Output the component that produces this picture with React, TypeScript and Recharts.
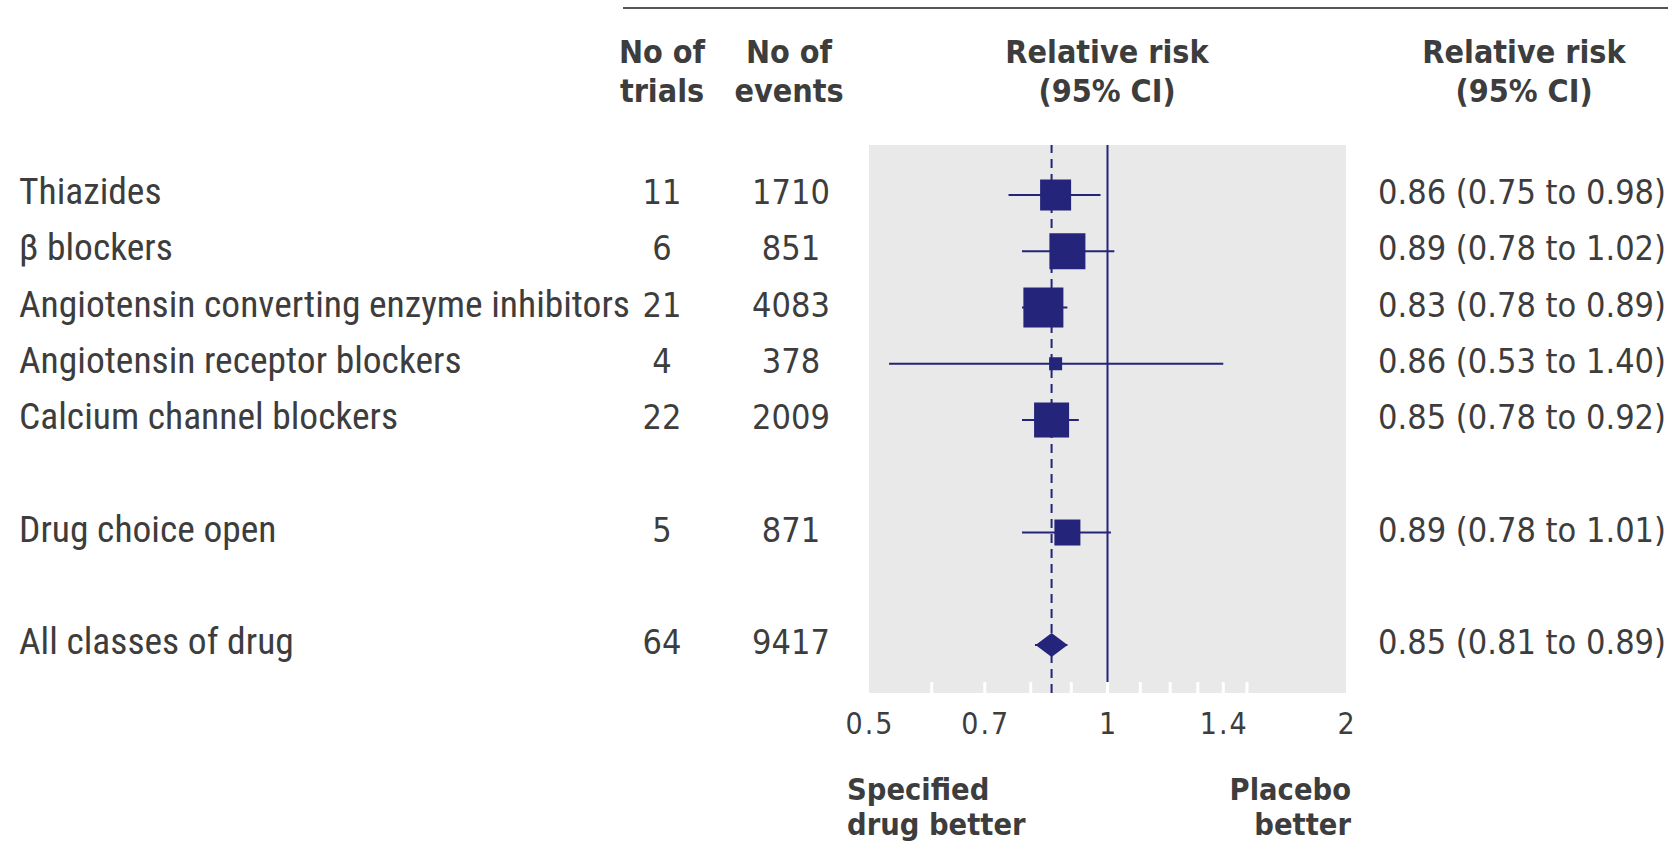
import React from "react";
import { ScatterChart, Scatter, XAxis, YAxis, CartesianGrid, ReferenceLine, ErrorBar } from "recharts";

const labels = [
  "Thiazides",
  "β blockers",
  "Angiotensin converting enzyme inhibitors",
  "Angiotensin receptor blockers",
  "Calcium channel blockers",
  "Drug choice open",
  "All classes of drug",
];
const slots = [0, 1, 2, 3, 4, 6, 8];
const trials = [11, 6, 21, 4, 22, 5, 64];
const events = [1710, 851, 4083, 378, 2009, 871, 9417];
const rr = [0.86, 0.89, 0.83, 0.86, 0.85, 0.89, 0.85];
const lo = [0.75, 0.78, 0.78, 0.53, 0.78, 0.78, 0.81];
const hi = [0.98, 1.02, 0.89, 1.4, 0.92, 1.01, 0.89];
const xTicks = [0.5, 0.6, 0.7, 0.8, 0.9, 1, 1.1, 1.2, 1.3, 1.4, 1.5, 2];
const xLabels = [0.5, 0.7, 1, 1.4, 2];

// marker side in px (study weight), last row is the pooled diamond
const BOX_PX = [31, 36, 40, 13, 35, 26, 0];

const NAVY = "#24247a";
const TEXT = "#3d3d3d";
const LABEL_FONT = '"Roboto Condensed", "DejaVu Sans Condensed", sans-serif';
const NUM_FONT = '"DejaVu Sans Condensed", "DejaVu Sans", sans-serif';
const BOLD_FONT = '"DejaVu Sans Condensed", "DejaVu Sans", sans-serif';

const rows = labels.map((label, i) => ({
  label,
  slot: slots[i],
  rr: rr[i],
  err: [+(rr[i] - lo[i]).toFixed(3), +(hi[i] - rr[i]).toFixed(3)],
  box: BOX_PX[i],
  pooled: i === labels.length - 1,
}));
const pooled = rr[rr.length - 1];

function Marker(props: any) {
  const { cx, cy, payload } = props;
  if (payload.pooled) {
    return (
      <polygon
        points={`${cx - 16},${cy} ${cx},${cy - 12} ${cx + 16},${cy} ${cx},${cy + 12}`}
        fill={NAVY}
      />
    );
  }
  const s = payload.box;
  return <rect x={cx - s / 2} y={cy - s / 2} width={s} height={s} fill={NAVY} />;
}

function RowTick(props: any) {
  const { y, payload } = props;
  const i = slots.indexOf(payload.value);
  if (i < 0) return null;
  const base = y + 9;
  const lab = { fontFamily: LABEL_FONT, fontSize: 37.5, fill: TEXT };
  const num = { fontFamily: NUM_FONT, fontSize: 34, fill: TEXT };
  return (
    <g>
      <text x={19} y={base} style={lab}>{labels[i]}</text>
      <text x={662} y={base} textAnchor="middle" style={num}>{trials[i]}</text>
      <text x={791} y={base} textAnchor="middle" style={num}>{events[i]}</text>
      <text x={1666} y={base} textAnchor="end" style={num}>
        {`${rr[i].toFixed(2)} (${lo[i].toFixed(2)} to ${hi[i].toFixed(2)})`}
      </text>
    </g>
  );
}

function XTick(props: any) {
  const { x, y, payload } = props;
  const v = payload.value;
  const edge = v === 0.5 || v === 2;
  return (
    <g>
      {!edge && <line x1={x} x2={x} y1={y - 11} y2={y} stroke="#fff" strokeWidth={3} />}
      {xLabels.includes(v) && (
        <text
          x={x + 1}
          y={y + 41}
          textAnchor="middle"
          style={{ fontFamily: NUM_FONT, fontSize: 30, fill: TEXT, letterSpacing: 2 }}
        >
          {String(v)}
        </text>
      )}
    </g>
  );
}

const bold = { fontFamily: BOLD_FONT, fontWeight: 700, fontSize: 32, fill: TEXT };
const boldFoot = { ...bold, fontSize: 30.5 };

function Captions() {
  return (
    <svg width={1677} height={843} style={{ position: "absolute", left: 0, top: 0, pointerEvents: "none" }}>
      <line x1={623} x2={1668} y1={8} y2={8} stroke="#555" strokeWidth={2} />
      <text x={662} y={63} textAnchor="middle" style={bold}>No of</text>
      <text x={662} y={102} textAnchor="middle" style={bold}>trials</text>
      <text x={789} y={63} textAnchor="middle" style={bold}>No of</text>
      <text x={789} y={102} textAnchor="middle" style={bold}>events</text>
      <text x={1107} y={63} textAnchor="middle" style={bold}>Relative risk</text>
      <text x={1107} y={102} textAnchor="middle" style={bold}>(95% CI)</text>
      <text x={1524} y={63} textAnchor="middle" style={bold}>Relative risk</text>
      <text x={1524} y={102} textAnchor="middle" style={bold}>(95% CI)</text>
      <text x={847} y={800} style={boldFoot}>Specified</text>
      <text x={847} y={835} style={boldFoot}>drug better</text>
      <text x={1351} y={800} textAnchor="end" style={boldFoot}>Placebo</text>
      <text x={1351} y={835} textAnchor="end" style={boldFoot}>better</text>
    </svg>
  );
}

export default function App() {
  return (
    <div style={{ position: "relative", width: 1677, height: 843, background: "#fff" }}>
      <style>{"body{margin:0}"}</style>
      <ScatterChart width={1677} height={843} margin={{ top: 145, right: 331, bottom: 120, left: 868 }}>
        <CartesianGrid horizontal={false} vertical={false} fill="#e9e9e9" stroke="none" />
        <XAxis
          type="number"
          dataKey="rr"
          scale="log"
          domain={[0.5, 2]}
          allowDataOverflow
          ticks={xTicks}
          interval={0}
          height={30}
          axisLine={false}
          tickLine={false}
          tickSize={0}
          tickMargin={0}
          tick={<XTick />}
        />
        <YAxis
          type="number"
          dataKey="slot"
          domain={[-0.889, 8.853]}
          reversed
          allowDataOverflow
          ticks={slots}
          interval={0}
          width={1}
          axisLine={false}
          tickLine={false}
          tick={<RowTick />}
        />
        <ReferenceLine x={1} stroke={NAVY} strokeWidth={2} />
        <ReferenceLine x={pooled} stroke={NAVY} strokeWidth={2} strokeDasharray="9 6" />
        <Scatter data={rows} shape={<Marker />} isAnimationActive={false}>
          <ErrorBar dataKey="err" direction="x" width={0} stroke={NAVY} strokeWidth={2} />
        </Scatter>
      </ScatterChart>
      <Captions />
    </div>
  );
}
